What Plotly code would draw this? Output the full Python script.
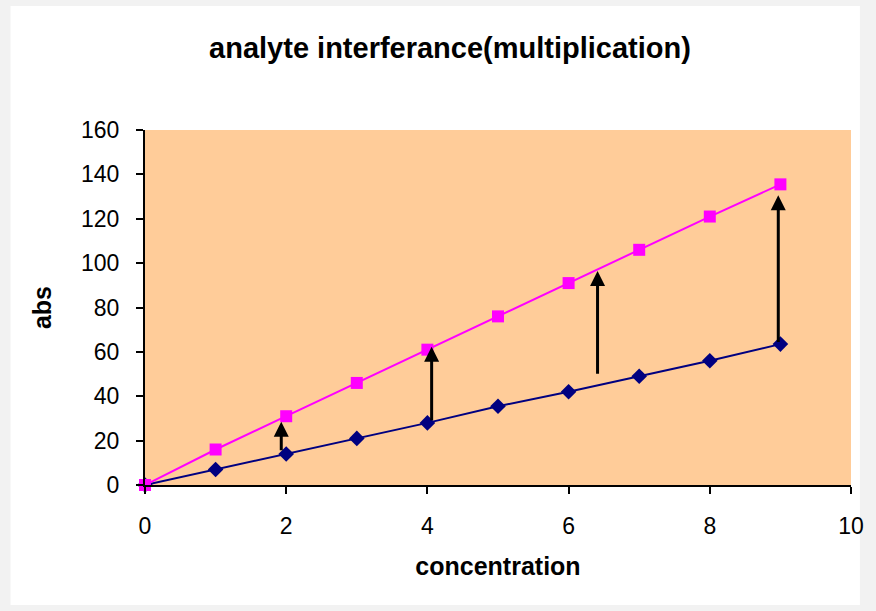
import plotly.graph_objects as go

# ---- data ----
concentration = [0, 1, 2, 3, 4, 5, 6, 7, 8, 9]
abs_true = [0, 7, 14, 21, 28, 35.5, 42, 49, 56, 63.5]
abs_interfered = [0, 16, 31, 46, 61, 76, 91, 106, 121, 135.5]

arrow_x = [1.93, 4.06, 6.41, 8.97]
arrow_from = [15, 28.5, 49.5, 63.8]
arrow_to = [28.5, 62.3, 96.5, 130.6]

title_text = "analyte interferance(multiplication)"
x_title = "concentration"
y_title = "abs"

FONT = "Liberation Sans, Arial, sans-serif"
PEACH = "#FFCC99"

W, H = 876, 611
L, R, T, B = 145, 17, 130, 126
pw, ph = W - L - R, H - T - B


def px_x(p):
    return (p - L) / pw


def px_y(p):
    return (H - B - p) / ph


fig = go.Figure()

fig.add_trace(go.Scatter(
    x=concentration, y=abs_true, mode="lines+markers",
    line=dict(color="#000080", width=2),
    marker=dict(symbol="diamond", size=12, color="#000080"),
    cliponaxis=False, showlegend=False,
))
fig.add_trace(go.Scatter(
    x=concentration, y=abs_interfered, mode="lines+markers",
    line=dict(color="#FF00FF", width=2),
    marker=dict(symbol="square", size=12, color="#FF00FF"),
    cliponaxis=False, showlegend=False,
))

annotations = []
for xa, y0, y1 in zip(arrow_x, arrow_from, arrow_to):
    annotations.append(dict(
        x=xa, y=y1, ax=xa, ay=y0, xref="x", yref="y", axref="x", ayref="y",
        text="", showarrow=True, arrowhead=2, arrowsize=1, arrowwidth=3,
        arrowcolor="black", standoff=0, startstandoff=0,
    ))

shapes = [
    dict(type="rect", xref="paper", yref="paper", layer="below",
         x0=px_x(9), x1=px_x(868), y0=px_y(605), y1=px_y(6),
         fillcolor="white", line=dict(width=0)),
    dict(type="rect", xref="paper", yref="paper", layer="below",
         x0=0, x1=1, y0=0, y1=1, fillcolor=PEACH, line=dict(width=0)),
]

fig.update_layout(
    width=W, height=H,
    margin=dict(l=L, r=R, t=T, b=B, pad=0),
    paper_bgcolor="#F2F2F2",
    plot_bgcolor=PEACH,
    font=dict(family=FONT, color="black"),
    title=dict(text="<b>" + title_text + "</b>", font=dict(size=29, family=FONT),
               x=450 / W, xanchor="center", xref="container",
               y=1 - 48 / H, yanchor="middle", yref="container"),
    xaxis=dict(range=[0, 10], tickvals=[0, 2, 4, 6, 8, 10],
               showline=True, linecolor="black", linewidth=2,
               ticks="outside", ticklen=7, tickwidth=2, tickcolor="black",
               showgrid=False, zeroline=False, ticklabelstandoff=12,
               tickfont=dict(size=23, family=FONT),
               title=dict(text="<b>" + x_title + "</b>", font=dict(size=25, family=FONT),
                          standoff=20)),
    yaxis=dict(range=[0, 160], tickvals=[0, 20, 40, 60, 80, 100, 120, 140, 160],
               showline=True, linecolor="black", linewidth=2,
               ticks="outside", ticklen=7, tickwidth=2, tickcolor="black",
               showgrid=False, zeroline=False, ticklabelstandoff=12,
               tickfont=dict(size=23, family=FONT),
               title=dict(text="<b>" + y_title + "</b>", font=dict(size=25, family=FONT),
                          standoff=22)),
    annotations=annotations,
    shapes=shapes,
)

fig.write_html("out.html")
